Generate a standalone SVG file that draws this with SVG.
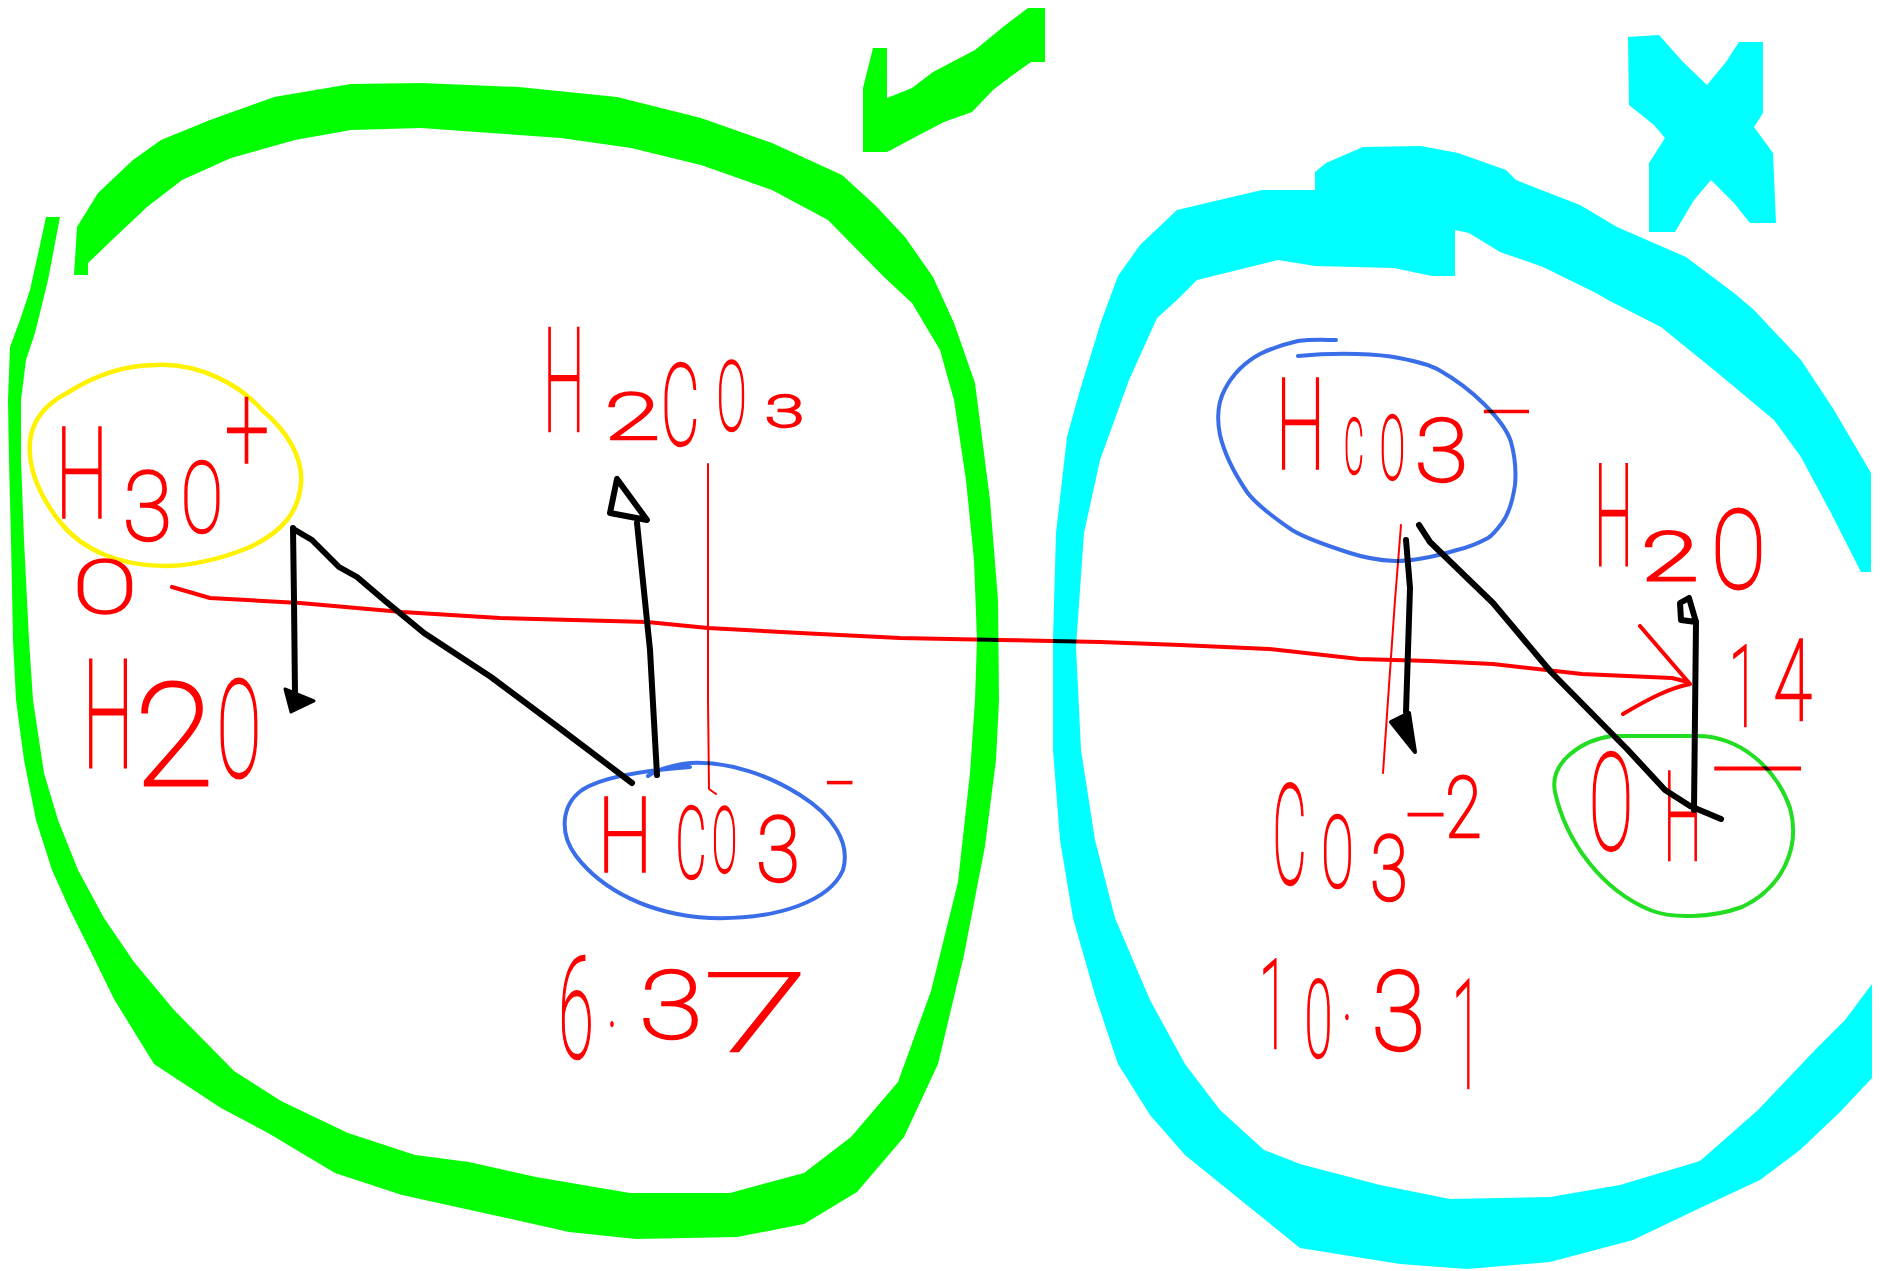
<svg xmlns="http://www.w3.org/2000/svg" width="1881" height="1271" viewBox="0 0 1881 1271">
<style>
.bg{fill:#ffffff}
.green-big{fill:#00ff00}
.cyan-big{fill:#00ffff}
.lbl{fill:#ff0000;stroke:#ff0000;stroke-width:1.4;vector-effect:non-scaling-stroke;font-family:Roboto,"Open Sans",Lato,"Liberation Sans",sans-serif;font-weight:100;mix-blend-mode:multiply}
.ink{fill:none;stroke-linecap:round;stroke-linejoin:round}
.blk{stroke:#000000;stroke-width:6}
.red{stroke:#ff0000;mix-blend-mode:multiply}
.ring-y{fill:none;stroke:#fff200;stroke-width:4.5;stroke-linejoin:round}
.ring-b{fill:none;stroke:#3a6ee8;stroke-width:4;stroke-linecap:round;stroke-linejoin:round}
.ring-g{fill:none;stroke:#22dd22;stroke-width:4;stroke-linejoin:round}
</style>
<rect class="bg" x="0" y="0" width="1881" height="1271"/>

<g id="shapes">
  <path id="green-loop" class="green-big" d="M46,217 L40,245 L30,290 L20,320 L10,347 L8,400 L9,460 L11,540 L13,640 L16,700 L24,760 L36,820 L52,870 L70,910 L90,950 L114,999 L154,1064 L221,1108 L268,1133 L335,1173 L402,1195 L502,1217 L569,1232 L636,1239 L737,1237 L804,1224 L857,1192 L904,1137 L938,1064 L964,955 L985,846 L996,760 L999,700 L998,600 L990,500 L975,383 L954,323 L933,277 L905,237 L875,205 L842,175 L772,143 L701,118 L617,97 L519,87 L421,83 L351,84 L274,97 L210,120 L161,140 L133,160 L98,193 L77,227 L74,275 L88,275 L88,263 L112,240 L147,207 L182,180 L231,158 L295,140 L351,130 L421,128 L491,133 L561,138 L631,148 L701,165 L772,190 L828,220 L884,277 L912,303 L940,350 L954,400 L966,480 L974,560 L977,640 L975,700 L970,773 L958,882 L931,991 L898,1082 L851,1137 L804,1173 L730,1193 L630,1193 L536,1177 L469,1162 L415,1155 L348,1133 L281,1101 L234,1071 L174,1010 L134,962 L104,918 L78,870 L58,820 L44,773 L33,700 L29,640 L24,540 L21,460 L21,400 L26,360 L35,333 L48,280 L60,217 Z"/>
  <polygon id="check-mark" class="green-big" points="863,152 863,88 873,48 887,48 887,98 912,88 933,72 975,50 1003,27 1028,8 1045,8 1045,62 1031,62 1010,77 993,90 972,112 944,122 919,135 891,150 887,152"/>
  <path id="cyan-loop" class="cyan-big" d="M1871,572 L1871,473 L1834,410 L1801,360 L1754,310 L1734,293 L1686,257 L1617,227 L1580,205 L1516,180 L1506,170 L1458,153 L1421,146 L1363,147 L1326,163 L1315,172 L1315,190 L1262,190 L1177,210 L1140,245 L1118,276 L1101,322 L1080,390 L1067,437 L1056,533 L1053,640 L1053,750 L1060,840 L1073,918 L1095,995 L1118,1064 L1150,1115 L1185,1155 L1253,1210 L1300,1248 L1400,1264 L1467,1269 L1550,1262 L1633,1240 L1700,1208 L1760,1180 L1800,1150 L1840,1112 L1872,1078 L1872,984 L1845,1020 L1815,1050 L1758,1110 L1700,1161 L1620,1185 L1550,1197 L1450,1199 L1380,1185 L1300,1164 L1264,1150 L1220,1110 L1185,1064 L1150,1000 L1115,918 L1095,840 L1081,750 L1076,647 L1084,533 L1100,460 L1129,380 L1157,318 L1177,300 L1197,280 L1278,260 L1315,266 L1394,268 L1432,276 L1455,276 L1455,230 L1469,233 L1500,252 L1543,267 L1596,293 L1608,300 L1661,327 L1714,370 L1774,420 L1801,457 L1831,513 L1861,572 Z"/>
  <polygon id="cross-mark" class="cyan-big" points="1628,37 1659,35 1683,62 1707,85 1726,62 1739,42 1763,42 1763,113 1754,127 1773,153 1776,223 1750,223 1734,203 1711,180 1694,200 1675,232 1649,232 1649,163 1665,138 1654,125 1629,105"/>
</g>

<g id="node-h3o">
  <path class="ring-y" d="M67,393 C100,372 128,365 156,365 C200,363 240,385 262,410 C288,432 303,458 301,483 C299,512 282,532 250,547 C215,562 182,566 165,566 C120,566 82,550 60,522 C38,494 28,466 30,442 C32,420 46,404 67,393 Z"/>
  <text class="lbl" transform="scale(1,1.75)"><tspan x="55.6" y="296" font-size="72.3" textLength="52.8" lengthAdjust="spacingAndGlyphs">H</tspan><tspan x="122.75" y="308.6" font-size="54.6" textLength="49.5" lengthAdjust="spacingAndGlyphs">3</tspan><tspan x="181.1" y="304" font-size="56.3" textLength="41.8" lengthAdjust="spacingAndGlyphs">O</tspan><tspan x="225" y="269.1" font-size="70.9" textLength="44" lengthAdjust="spacingAndGlyphs">+</tspan></text>
</g>

<g id="node-o-start">
  <text class="lbl" transform="scale(1,1.75)"><tspan x="73.1" y="350.3" font-size="42.6" textLength="63.8" lengthAdjust="spacingAndGlyphs">O</tspan></text>
</g>

<g id="node-h2o-left">
  <text class="lbl" transform="scale(1,2.1)"><tspan x="82.7" y="365.2" font-size="71.7" textLength="50.6" lengthAdjust="spacingAndGlyphs">H</tspan><tspan x="134.4" y="373.8" font-size="68.3" textLength="79.2" lengthAdjust="spacingAndGlyphs">2</tspan><tspan x="217" y="370" font-size="64.95" textLength="44" lengthAdjust="spacingAndGlyphs">O</tspan></text>
</g>

<g id="node-h2co3">
  <text class="lbl" transform="scale(1,1.75)"><tspan x="543.1" y="246.3" font-size="82.9" textLength="41.8" lengthAdjust="spacingAndGlyphs">H</tspan><tspan x="604.45" y="250.9" font-size="37" textLength="55.5" lengthAdjust="spacingAndGlyphs">2</tspan><tspan x="661" y="254.3" font-size="64.3" textLength="38.5" lengthAdjust="spacingAndGlyphs">C</tspan><tspan x="716.65" y="245.7" font-size="54.6" textLength="29.7" lengthAdjust="spacingAndGlyphs">O</tspan><tspan x="765.25" y="244" font-size="24.9" textLength="38.5" lengthAdjust="spacingAndGlyphs">3</tspan></text>
</g>

<g id="node-hco3-left">
  <path class="ring-b" d="M690,767 C650,770 603,776 582,790 C560,806 560,835 576,856 C602,890 650,915 710,918 C780,920 830,900 843,870 C851,842 832,815 800,795 C770,776 730,761 690,763 C670,765 655,771 648,776"/>
  <text class="lbl" transform="scale(1,1.75)"><tspan x="597.5" y="498.3" font-size="59.4" textLength="55" lengthAdjust="spacingAndGlyphs">H</tspan><tspan x="675.5" y="501.7" font-size="57.1" textLength="31" lengthAdjust="spacingAndGlyphs">C</tspan><tspan x="712" y="498.3" font-size="52.2" textLength="25" lengthAdjust="spacingAndGlyphs">O</tspan><tspan x="756" y="503.4" font-size="52.2" textLength="44" lengthAdjust="spacingAndGlyphs">3</tspan><tspan x="827" y="454.9" font-size="22.9" textLength="26" lengthAdjust="spacingAndGlyphs">-</tspan></text>
</g>

<g id="node-pka-637">
  <text class="lbl" transform="scale(1,1.75)"><tspan x="558.4" y="604.6" font-size="80.3" textLength="35.2" lengthAdjust="spacingAndGlyphs">6</tspan><tspan x="608" y="586.3" font-size="40">.</tspan><tspan x="639.1" y="593.1" font-size="53.8" textLength="63.8" lengthAdjust="spacingAndGlyphs">3</tspan><tspan x="703" y="600.6" font-size="62.7" textLength="106" lengthAdjust="spacingAndGlyphs">7</tspan></text>
</g>

<g id="node-hco3-right">
  <path class="ring-b" d="M1298,356 C1340,352 1380,354 1399,358 C1420,362 1432,366 1439,370 C1460,382 1476,396 1484,404 C1500,420 1508,432 1511,442 C1516,460 1516,474 1515,485 C1512,505 1508,515 1502,523 C1496,531 1493,535 1488,538 C1475,545 1466,548 1457,550 C1430,558 1410,561 1395,561 C1375,560 1362,557 1350,553 C1325,545 1305,538 1292,530 C1270,515 1255,503 1247,492 C1232,470 1224,452 1220,435 C1216,415 1219,400 1225,389 C1234,372 1247,361 1260,354 C1272,348 1285,344 1298,341 C1312,339 1326,340 1336,340"/>
  <text class="lbl" transform="scale(1,1.75)"><tspan x="1275.75" y="268" font-size="72.3" textLength="49.5" lengthAdjust="spacingAndGlyphs">H</tspan><tspan x="1344.1" y="270.3" font-size="43.4" textLength="19.8" lengthAdjust="spacingAndGlyphs">C</tspan><tspan x="1379.85" y="273.7" font-size="50.6" textLength="25.3" lengthAdjust="spacingAndGlyphs">O</tspan><tspan x="1414.55" y="274.9" font-size="49.8" textLength="53.9" lengthAdjust="spacingAndGlyphs">3</tspan><tspan x="1484" y="242.9" font-size="22.9" textLength="46" lengthAdjust="spacingAndGlyphs">-</tspan></text>
</g>

<g id="node-h2o-right">
  <text class="lbl" transform="scale(1,2.1)"><tspan x="1594.25" y="269" font-size="66.95" textLength="38.5" lengthAdjust="spacingAndGlyphs">H</tspan><tspan x="1641.4" y="276.2" font-size="31.4" textLength="57.2" lengthAdjust="spacingAndGlyphs">2</tspan><tspan x="1711.55" y="280" font-size="52.2" textLength="53.9" lengthAdjust="spacingAndGlyphs">O</tspan></text>
</g>

<g id="node-14">
  <text class="lbl" transform="scale(1,1.75)"><tspan x="1729" y="414.9" font-size="65.1" textLength="29" lengthAdjust="spacingAndGlyphs">1</tspan><tspan x="1773.25" y="411.4" font-size="64.3" textLength="38.5" lengthAdjust="spacingAndGlyphs">4</tspan></text>
</g>

<g id="node-co3">
  <text class="lbl" transform="scale(1,1.9)"><tspan x="1272.45" y="465.3" font-size="73.2" textLength="34.1" lengthAdjust="spacingAndGlyphs">C</tspan><tspan x="1321.55" y="466.8" font-size="52.6" textLength="31.9" lengthAdjust="spacingAndGlyphs">O</tspan><tspan x="1370.2" y="473.7" font-size="48.1" textLength="37.5" lengthAdjust="spacingAndGlyphs">3</tspan><tspan x="1408" y="435.8" font-size="21.1" textLength="36" lengthAdjust="spacingAndGlyphs">-</tspan><tspan x="1445.35" y="440.5" font-size="45.2" textLength="36.3" lengthAdjust="spacingAndGlyphs">2</tspan></text>
</g>

<g id="node-oh">
  <path class="ring-g" d="M1612,736 L1697,736 C1740,736 1776,768 1790,808 C1801,848 1782,888 1742,907 C1712,918 1672,919 1650,910 C1602,890 1566,842 1555,792 C1549,762 1582,740 1612,736 Z"/>
  <text class="lbl" transform="scale(1,1.75)"><tspan x="1589" y="485.7" font-size="77.1" textLength="44" lengthAdjust="spacingAndGlyphs">O</tspan><tspan x="1663.25" y="491.4" font-size="70.9" textLength="38.5" lengthAdjust="spacingAndGlyphs">H</tspan><tspan x="1730" y="442.9" font-size="10.3" textLength="69" lengthAdjust="spacingAndGlyphs" stroke-width="2">-</tspan></text>
</g>

<g id="node-pka-1031">
  <text class="lbl" transform="scale(1,1.75)"><tspan x="1259" y="598.9" font-size="71.4" textLength="29" lengthAdjust="spacingAndGlyphs">1</tspan><tspan x="1304.75" y="604" font-size="61.7" textLength="27.5" lengthAdjust="spacingAndGlyphs">0</tspan><tspan x="1343" y="582.3" font-size="40">.</tspan><tspan x="1371.55" y="600" font-size="63.4" textLength="53.9" lengthAdjust="spacingAndGlyphs">3</tspan><tspan x="1452" y="621.7" font-size="86.9" textLength="29" lengthAdjust="spacingAndGlyphs">1</tspan></text>
</g>

<g id="connectors">
  <path class="ink red" stroke-width="4" d="M172,587 L210,598 L300,603 L402,612 L500,618 L647,622 L708,628 L800,633 L900,638 L1000,640 L1100,642 L1180,645 L1269,649 L1359,659 L1430,661 L1493,664 L1582,674 L1672,678 L1688,682"/>
  <path class="ink red" stroke-width="4" d="M1640,626 L1690,684 C1670,688 1650,698 1623,714"/>
  <path class="ink red" stroke-width="2" d="M708,464 L708,700 L709,789 L716,794"/>
  <path class="ink red" stroke-width="2" d="M1401,525 L1395,600 L1388,700 L1383,773"/>
  <path class="ink blk" d="M293,528 L294,600 L295,695"/>
  <polygon fill="#000" stroke="#000" stroke-width="3" stroke-linejoin="round" points="285,689 314,701 291,712"/>
  <path class="ink blk" d="M295,530 L312,540 L339,567 L357,577 L384,600 L424,633 L491,677 L558,727 L632,783"/>
  <path class="ink blk" stroke-width="7" d="M657,775 L650,650 L637,523"/>
  <path class="ink blk" stroke-width="6" d="M617,479 L610,513 L647,520 Z"/>
  <path class="ink blk" d="M1406,540 L1410,588 L1408,650 L1406,712"/>
  <polygon fill="#000" stroke="#000" stroke-width="4" stroke-linejoin="round" points="1391,722 1409,713 1415,752"/>
  <path class="ink blk" d="M1419,525 L1430,542 L1493,603 L1551,672 L1627,749 L1665,790 L1690,806 L1721,819"/>
  <path class="ink blk" d="M1694,810 L1696,622"/>
  <path class="ink blk" stroke-width="5" d="M1696,622 L1681,620 L1680,603 L1689,598 L1696,622"/>
</g>
</svg>
